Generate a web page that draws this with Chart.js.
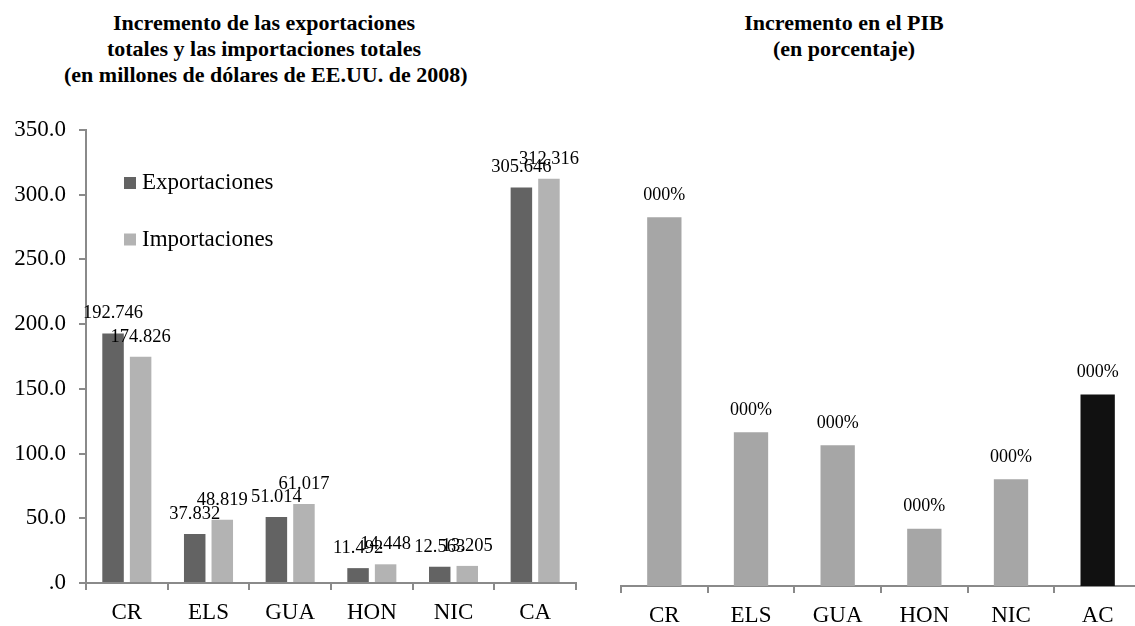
<!DOCTYPE html>
<html><head><meta charset="utf-8">
<script src="https://cdn.jsdelivr.net/npm/chart.js@4.4.1/dist/chart.umd.min.js"></script>
<style>
html,body{margin:0;padding:0;background:#fff;overflow:hidden;width:1135px;height:626px;}
#wrap{position:relative;width:1135px;height:626px;overflow:hidden;background:#fff;}
.title{position:absolute;font-family:"Liberation Serif","Times New Roman",serif;font-weight:bold;font-size:22px;line-height:26px;text-align:center;color:#000;white-space:nowrap;}
#c1{position:absolute;left:0;top:0;}
#c2{position:absolute;left:580px;top:0;}
</style></head>
<body><div id="wrap">
<div class="title" id="t1" style="left:64px;top:10px;width:400px;"></div>
<div class="title" id="t2" style="left:644px;top:10px;width:400px;"></div>
<canvas id="c1" width="580" height="626"></canvas>
<canvas id="c2" width="600" height="626"></canvas>
</div>
<script>
// ---- data ----
const titleLeft = ['Incremento de las exportaciones','totales y las importaciones totales','(en millones de dólares de EE.UU. de 2008)'];
const titleRight = ['Incremento en el PIB','(en porcentaje)'];
const categories = ['CR','ELS','GUA','HON','NIC','CA'];
const seriesNames = ['Exportaciones','Importaciones'];
const exportaciones = [192.746, 37.832, 51.014, 11.492, 12.563, 305.646];
const importaciones = [174.826, 48.819, 61.017, 14.448, 13.205, 312.316];
const yTicksLeft = [0, 50, 100, 150, 200, 250, 300, 350];
const pibCategories = ['CR','ELS','GUA','HON','NIC','AC'];
const pibValues = [0.00283, 0.00118, 0.00108, 0.00044, 0.00082, 0.00147];

document.getElementById('t1').innerHTML = titleLeft.join('<br>');
document.getElementById('t2').innerHTML = titleRight.join('<br>');

const SERIF = "'Liberation Serif','Times New Roman',serif";
Chart.defaults.font.family = SERIF;
Chart.defaults.color = '#000';
const AXIS = '#8a8a8a';

// Excel "#.0" format
function fmtDec(v){ let s = Number(v).toFixed(1); if (s.startsWith('0.')) s = s.slice(1); return s; }
// Excel "000%" format
function fmtPct(v){ return String(Math.round(v*100)).padStart(3,'0') + '%'; }

const valueLabels = {
  id:'valueLabels',
  afterDatasetsDraw(chart, args, opts){
    const ctx = chart.ctx;
    ctx.save();
    ctx.font = opts.size + 'px ' + SERIF;
    ctx.fillStyle = '#000';
    ctx.textAlign = 'center';
    ctx.textBaseline = 'middle';
    chart.data.datasets.forEach((ds, di) => {
      chart.getDatasetMeta(di).data.forEach((el, i) => {
        ctx.fillText(opts.format(ds.data[i]), el.x, el.y - opts.offset);
      });
    });
    ctx.restore();
  }
};

const insideLegend = {
  id:'insideLegend',
  afterDraw(chart){
    const {ctx, chartArea} = chart;
    ctx.save();
    ctx.font = '23px ' + SERIF;
    ctx.textBaseline = 'middle';
    ctx.textAlign = 'left';
    chart.data.datasets.forEach((ds, i) => {
      const cy = chartArea.top + 53 + i * 56.5;
      const x = chartArea.left + 38;
      ctx.fillStyle = ds.backgroundColor;
      ctx.fillRect(x, cy - 6, 12, 12);
      ctx.fillStyle = '#000';
      ctx.fillText(ds.label, x + 18, cy);
    });
    ctx.restore();
  }
};

function xScale(h){
  return {
    ticks:{color:'#000', font:{size:23}, padding:9},
    grid:{drawOnChartArea:false, drawTicks:true, tickLength:7, color:AXIS, lineWidth:2, offset:true},
    border:{display:true, color:AXIS, width:2},
    afterFit(s){ s.height = h; }
  };
}

new Chart(document.getElementById('c1'), {
  type:'bar',
  data:{
    labels:categories,
    datasets:[
      {label:seriesNames[0], data:exportaciones, backgroundColor:'#636363', categoryPercentage:0.675, barPercentage:0.78},
      {label:seriesNames[1], data:importaciones, backgroundColor:'#b3b3b3', categoryPercentage:0.675, barPercentage:0.78}
    ]
  },
  options:{
    responsive:false, animation:false, devicePixelRatio:1,
    layout:{padding:{top:130, right:4, left:0, bottom:0}},
    plugins:{legend:{display:false}, title:{display:false}, tooltip:{enabled:false},
      valueLabels:{size:18.5, offset:20, format:v => v.toFixed(3)}},
    scales:{
      x:xScale(43),
      y:{
        min:yTicksLeft[0], max:yTicksLeft[yTicksLeft.length-1],
        afterBuildTicks(s){ s.ticks = yTicksLeft.map(v => ({value:v})); },
        ticks:{color:'#000', font:{size:23}, padding:13, callback:v => fmtDec(v)},
        grid:{drawOnChartArea:false, drawTicks:true, tickLength:7, color:AXIS, lineWidth:2},
        border:{display:true, color:AXIS, width:2},
        afterFit(s){ s.width = 86; }
      }
    }
  },
  plugins:[valueLabels, insideLegend]
});

new Chart(document.getElementById('c2'), {
  type:'bar',
  data:{
    labels:pibCategories,
    datasets:[{label:'PIB', data:pibValues,
      backgroundColor:['#a6a6a6','#a6a6a6','#a6a6a6','#a6a6a6','#a6a6a6','#111111'],
      categoryPercentage:1, barPercentage:0.396}]
  },
  options:{
    responsive:false, animation:false, devicePixelRatio:1,
    layout:{padding:{top:130, right:39, left:41, bottom:0}},
    plugins:{legend:{display:false}, title:{display:false}, tooltip:{enabled:false},
      valueLabels:{size:18, offset:22, format:fmtPct}},
    scales:{
      x:xScale(40),
      y:{display:false, min:0, max:0.0035}
    }
  },
  plugins:[valueLabels]
});
</script>
</body></html>
